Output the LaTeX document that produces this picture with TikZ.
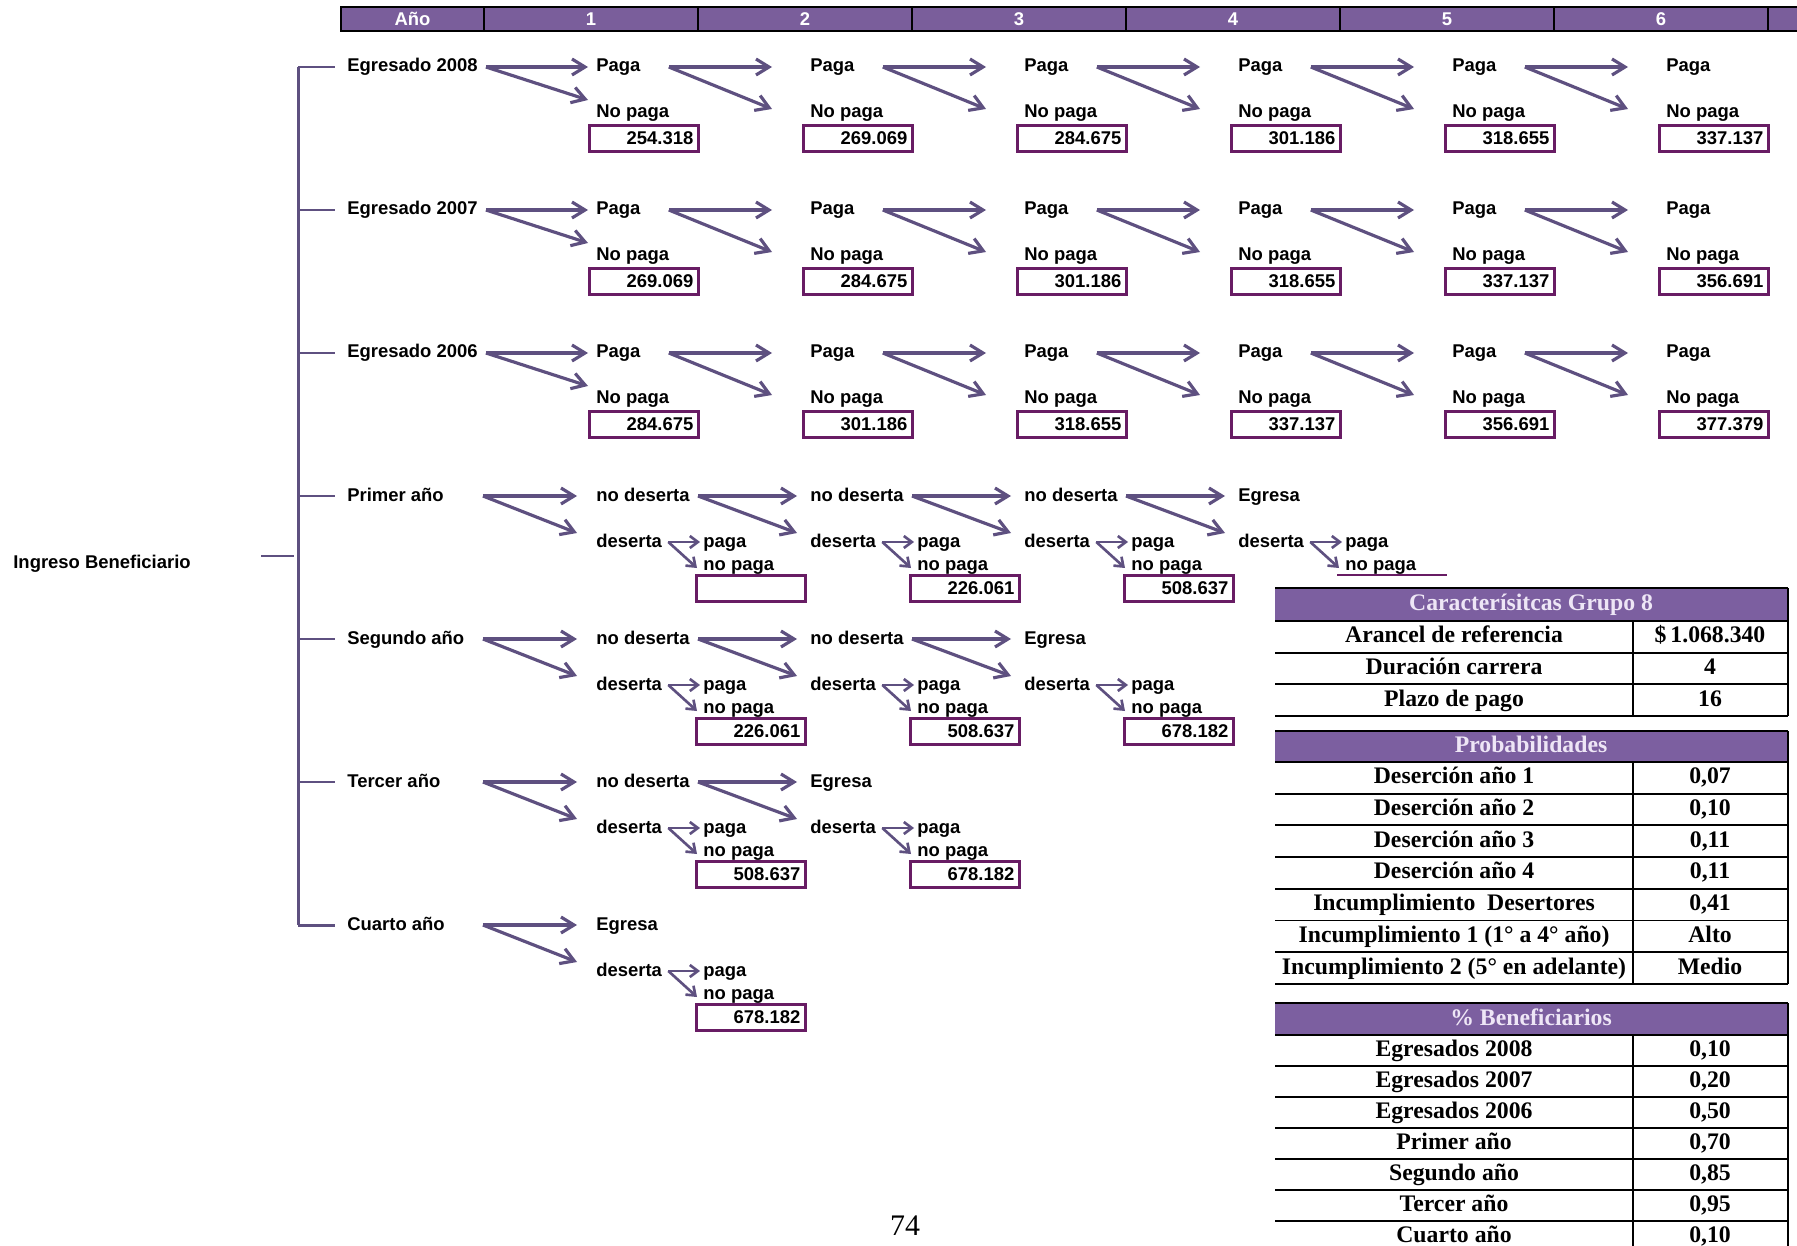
\documentclass[tikz,border=0pt]{standalone}
\usepackage{fontspec}
\setmainfont{Liberation Serif}
\newfontfamily\diagsans{Liberation Sans}
\usetikzlibrary{arrows.meta}

\definecolor{flowc}{RGB}{94,80,128}
\definecolor{boxc}{RGB}{104,28,100}
\definecolor{barc}{RGB}{122,94,155}
\definecolor{headc}{RGB}{124,95,160}
\definecolor{headtxt}{RGB}{238,230,246}

\tikzset{
  lbl/.style={anchor=west, inner sep=0pt, text height=0.28cm, text depth=0.08cm,
    font=\diagsans\bfseries\fontsize{10.5}{12}\selectfont},
  flow/.style={flowc, line width=1.8pt, ->},
  small/.style={line width=1.5pt, >={Straight Barb[length=0.16cm,width=0.24cm]}},
  brk/.style={flowc, line width=1.7pt},
  valbox/.style={draw=boxc, line width=1.5pt, fill=white, anchor=north west,
    minimum height=0.52cm, text width=1.98cm, inner xsep=0.1cm, inner ysep=0pt,
    align=right, font=\diagsans\bfseries\fontsize{10.5}{12}\selectfont},
  yearcell/.style={draw=black, line width=1.1pt, fill=barc, text=white, anchor=west,
    minimum height=0.48cm, inner sep=0pt, font=\diagsans\bfseries\fontsize{10.5}{12}\selectfont},
  tcell/.style={inner sep=0pt, text height=0.34cm, text depth=0.1cm,
    font=\bfseries\fontsize{13.5}{15}\selectfont},
  thead/.style={tcell, text=headtxt},
  tline/.style={black, line width=1.1pt}
}

\begin{document}
\begin{tikzpicture}[x=0.02cm, y=-0.02cm, >={Straight Barb[length=0.26cm,width=0.32cm]}]
  \useasboundingbox (0,0) rectangle (1797,1246);
  \fill[white] (0,0) rectangle (1797,1246);

  % year bar
  \node[yearcell, minimum width=2.86cm] (yr0) at (340,19) {Año};
  \foreach \k in {1,...,6}
    \node[yearcell, minimum width=4.28cm] (yr\k) at ({483+214*(\k-1)},19) {\k};
  \node[yearcell, minimum width=1cm] (yr7) at (1767,19) {};

  % egresados
  \foreach \r/\yr in {0/2008,1/2007,2/2006}{
    \pgfmathsetmacro\yy{67+143*\r}
    \node[lbl] (eg\r) at (347,\yy) {Egresado \yr};
    \foreach \k in {1,...,6}{
      \pgfmathsetmacro\xx{596+214*(\k-1)}
      \node[lbl] (p\r\k) at (\xx,\yy) {Paga};
      \node[lbl] (n\r\k) at (\xx,\yy+46) {No paga};
    }
    \draw[flow] ([xshift=0.16cm]eg\r.east) -- ([xshift=-0.16cm]p\r1.west);
    \draw[flow] ([xshift=0.16cm]eg\r.east) -- ([xshift=-0.16cm,yshift=0.26cm]n\r1.west);
    \foreach \k [evaluate=\k as \j using int(\k+1)] in {1,...,5}{
      \draw[flow] ([xshift=0.56cm]p\r\k.east) -- ([xshift=-0.76cm]p\r\j.west);
      \draw[flow] ([xshift=0.56cm]p\r\k.east) -- ([xshift=-0.76cm,yshift=0.08cm]n\r\j.west);
    }
  }
  \foreach \v [count=\k] in {254.318,269.069,284.675,301.186,318.655,337.137}
    \node[valbox] (v0\k) at ([xshift=-0.16cm,yshift=-0.22cm]n0\k.west) {\v};
  \foreach \v [count=\k] in {269.069,284.675,301.186,318.655,337.137,356.691}
    \node[valbox] (v1\k) at ([xshift=-0.16cm,yshift=-0.22cm]n1\k.west) {\v};
  \foreach \v [count=\k] in {284.675,301.186,318.655,337.137,356.691,377.379}
    \node[valbox] (v2\k) at ([xshift=-0.16cm,yshift=-0.22cm]n2\k.west) {\v};

  % alumnos
  \foreach \r/\name in {3/Primer año,4/Segundo año,5/Tercer año,6/Cuarto año}{
    \pgfmathsetmacro\yy{67+143*\r}
    \pgfmathtruncatemacro\m{7-\r}
    \node[lbl] (ls\r) at (347,\yy) {\name};
    \foreach \k in {1,...,\m}{
      \pgfmathsetmacro\xx{596+214*(\k-1)}
      \ifnum\k=\m \def\toplbl{Egresa}\else\def\toplbl{no deserta}\fi
      \node[lbl] (t\r\k) at (\xx,\yy) {\toplbl};
      \node[lbl] (d\r\k) at (\xx,\yy+46) {deserta};
      \node[lbl] (dp\r\k) at (\xx+107,\yy+46) {paga};
      \node[lbl] (dn\r\k) at (\xx+107,\yy+69) {no paga};
      \draw[flow, small] ([xshift=0.12cm]d\r\k.east) -- ([xshift=-0.06cm]dp\r\k.west);
      \draw[flow, small] ([xshift=0.12cm]d\r\k.east) -- ([xshift=-0.12cm,yshift=-0.06cm]dn\r\k.west);
    }
    \draw[flow] ([xshift=2.72cm]ls\r.west) -- ([xshift=-0.38cm]t\r1.west);
    \draw[flow] ([xshift=2.72cm]ls\r.west) -- ([xshift=-0.38cm,yshift=0.18cm]d\r1.west);
    \ifnum\m>1
      \pgfmathtruncatemacro\mm{\m-1}
      \foreach \k [evaluate=\k as \j using int(\k+1)] in {1,...,\mm}{
        \draw[flow] ([xshift=0.16cm]t\r\k.east) -- ([xshift=-0.26cm]t\r\j.west);
        \draw[flow] ([xshift=0.16cm]t\r\k.east) -- ([xshift=-0.26cm,yshift=0.18cm]d\r\j.west);
      }
    \fi
  }
  \foreach \r/\k/\v in {3/1/{},3/2/226.061,3/3/508.637,4/1/226.061,4/2/508.637,4/3/678.182,5/1/508.637,5/2/678.182,6/1/678.182}
    \node[valbox] (w\r\k) at ([xshift=-0.16cm,yshift=-0.18cm]dn\r\k.west) {\v};
  \draw[boxc, line width=1.5pt] ([xshift=-0.16cm,yshift=-0.2cm]dn34.west) -- ++(2.2cm,0);

  % bracket
  \node[lbl] (ib) at (13,563) {Ingreso Beneficiario};
  \draw[brk] ([xshift=-0.98cm]eg0.west) -- ([xshift=-0.98cm]ls6.west);
  \foreach \l in {eg0,eg1,eg2,ls3,ls4,ls5,ls6}
    \draw[brk] ([xshift=-0.98cm]\l.west) -- ([xshift=-0.24cm]\l.west);
  \draw[brk] (ib.east) ++(1.4cm,0.14cm) -- ++(0.66cm,0);

  % caracteristicas
  \fill[headc] (1275,588) rectangle (1788,621);
  \node[thead] (ca) at (1531,604.5) {Caracterísitcas Grupo 8};
  \foreach \a/\b [count=\i] in {Arancel de referencia/\$\,1.068.340,Duración carrera/4,Plazo de pago/16}{
    \node[tcell] (ca\i) at (1454,{621+31.7*\i-15.85}) {\a};
    \node[tcell] (cv\i) at (1710,{621+31.7*\i-15.85}) {\b};
    \draw[tline] (1275,{621+31.7*\i}) -- (1788,{621+31.7*\i});
  }
  \draw[tline] (1275,588) -- (1788,588) (1275,621) -- (1788,621)
    (1633,621) -- (1633,716) (1788,588) -- (1788,716);

  % probabilidades
  \fill[headc] (1275,731) rectangle (1788,762);
  \node[thead] (pr) at (1531,746.5) {Probabilidades};
  \foreach \a/\b [count=\i] in {Deserción año 1/{0,07},Deserción año 2/{0,10},Deserción año 3/{0,11},
      Deserción año 4/{0,11},Incumplimiento~~Desertores/{0,41},Incumplimiento 1 (1° a 4° año)/Alto,
      Incumplimiento 2 (5° en adelante)/Medio}{
    \node[tcell] (pr\i) at (1454,{762+31.7*\i-15.85}) {\a};
    \node[tcell] (pv\i) at (1710,{762+31.7*\i-15.85}) {\b};
    \draw[tline] (1275,{762+31.7*\i}) -- (1788,{762+31.7*\i});
  }
  \draw[tline] (1275,731) -- (1788,731) (1275,762) -- (1788,762)
    (1633,762) -- (1633,984) (1788,731) -- (1788,984);

  % beneficiarios
  \fill[headc] (1275,1003) rectangle (1788,1035);
  \node[thead] (be) at (1531,1019) {\% Beneficiarios};
  \foreach \a/\b [count=\i] in {Egresados 2008/{0,10},Egresados 2007/{0,20},Egresados 2006/{0,50},
      Primer año/{0,70},Segundo año/{0,85},Tercer año/{0,95},Cuarto año/{0,10}}{
    \node[tcell] (be\i) at (1454,{1035+31*\i-15.5}) {\a};
    \node[tcell] (bv\i) at (1710,{1035+31*\i-15.5}) {\b};
    \draw[tline] (1275,{1035+31*\i}) -- (1788,{1035+31*\i});
  }
  \draw[tline] (1275,1003) -- (1788,1003) (1275,1035) -- (1788,1035)
    (1633,1035) -- (1633,1252) (1788,1003) -- (1788,1252);

  \node[font=\fontsize{17}{20}\selectfont] (pg) at (905,1226) {74};
\end{tikzpicture}
\end{document}
